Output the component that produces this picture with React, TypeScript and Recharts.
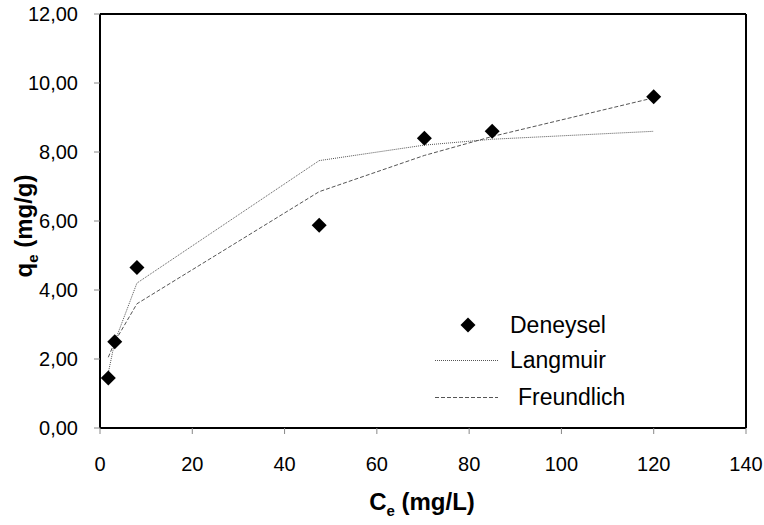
import React from 'react';
import {
  ComposedChart,
  Line,
  Scatter,
  XAxis,
  YAxis,
  ReferenceLine,
} from 'recharts';

// Ce (mg/L) where the samples were taken
const ceValues = [1.8, 3.2, 8, 47.5, 70.3, 85, 120];
// measured qe (mg/g)
const deneysel = [1.45, 2.5, 4.65, 5.88, 8.4, 8.6, 9.6];
// model fits at the same Ce values
const langmuir = [1.6, 2.5, 4.2, 7.75, 8.2, 8.37, 8.6];
const freundlich = [2.05, 2.5, 3.6, 6.85, 7.9, 8.45, 9.57];

const xTicks = [0, 20, 40, 60, 80, 100, 120, 140];
const yTicks = [0, 2, 4, 6, 8, 10, 12];

const FONT = '"Liberation Sans", Arial, sans-serif';

const rows = ceValues.map((x, i) => ({
  x,
  deneysel: deneysel[i],
  langmuir: langmuir[i],
  freundlich: freundlich[i],
}));

const Diamond = (props: any) => {
  const { cx, cy } = props;
  if (cx == null || cy == null) return null;
  const r = 7.5;
  return (
    <polygon
      points={`${cx},${cy - r} ${cx + r},${cy} ${cx},${cy + r} ${cx - r},${cy}`}
      fill="#000"
    />
  );
};

const fmtY = (v: number) => v.toFixed(2).replace('.', ',');

const legendText: React.CSSProperties = {
  position: 'absolute',
  fontSize: 23,
  lineHeight: '26px',
  whiteSpace: 'nowrap',
};

export default function App() {
  return (
    <div style={{ position: 'absolute', left: 0, top: 0, width: 764, height: 525, background: '#fff', fontFamily: FONT }}>
      <ComposedChart
        width={764}
        height={525}
        data={rows}
        margin={{ top: 14, right: 18, left: 0, bottom: 0 }}
      >
        <XAxis
          dataKey="x"
          type="number"
          domain={[0, 140]}
          ticks={xTicks}
          height={97}
          axisLine={{ stroke: '#000', strokeWidth: 2 }}
          tickLine={{ stroke: '#888' }}
          tickSize={6}
          tickMargin={23}
          tick={{ fontSize: 20, fill: '#000', fontFamily: FONT }}
          allowDataOverflow
        />
        <YAxis
          type="number"
          domain={[0, 12]}
          ticks={yTicks}
          width={100}
          tickFormatter={fmtY}
          axisLine={{ stroke: '#000', strokeWidth: 2 }}
          tickLine={{ stroke: '#888' }}
          tickSize={6}
          tickMargin={16}
          tick={{ fontSize: 20, fill: '#000', fontFamily: FONT }}
          allowDataOverflow
        />
        <ReferenceLine y={12} stroke="#000" strokeWidth={2} />
        <ReferenceLine x={140} stroke="#000" strokeWidth={2} />
        <Line
          type="linear"
          dataKey="langmuir"
          stroke="#555"
          strokeWidth={1}
          strokeDasharray="1 1"
          dot={false}
          isAnimationActive={false}
        />
        <Line
          type="linear"
          dataKey="freundlich"
          stroke="#555"
          strokeWidth={1}
          strokeDasharray="4 2"
          dot={false}
          isAnimationActive={false}
        />
        <Scatter dataKey="deneysel" shape={<Diamond />} isAnimationActive={false} />
      </ComposedChart>

      {/* y axis title */}
      <div
        style={{
          position: 'absolute',
          left: 24,
          top: 226,
          transform: 'translate(-50%, -50%) rotate(-90deg)',
          whiteSpace: 'nowrap',
          fontWeight: 'bold',
          fontSize: 24,
          lineHeight: '28px',
        }}
      >
        q<sub style={{ fontSize: 15, lineHeight: 0 }}>e</sub> (mg/g)
      </div>

      {/* x axis title */}
      <div
        style={{
          position: 'absolute',
          left: 422,
          top: 502,
          transform: 'translate(-50%, -50%)',
          whiteSpace: 'nowrap',
          fontWeight: 'bold',
          fontSize: 24,
          lineHeight: '28px',
        }}
      >
        C<sub style={{ fontSize: 15, lineHeight: 0 }}>e</sub> (mg/L)
      </div>

      {/* legend */}
      <svg style={{ position: 'absolute', left: 0, top: 0 }} width={764} height={525}>
        <polygon points="468,317.5 475.5,325 468,332.5 460.5,325" fill="#000" />
        <line x1={435} y1={360.5} x2={498} y2={360.5} stroke="#555" strokeDasharray="1 1" />
        <line x1={435} y1={397.5} x2={498} y2={397.5} stroke="#555" strokeDasharray="4 2" />
      </svg>
      <div style={{ ...legendText, left: 510, top: 312 }}>Deneysel</div>
      <div style={{ ...legendText, left: 510, top: 347 }}>Langmuir</div>
      <div style={{ ...legendText, left: 518, top: 384 }}>Freundlich</div>
    </div>
  );
}
